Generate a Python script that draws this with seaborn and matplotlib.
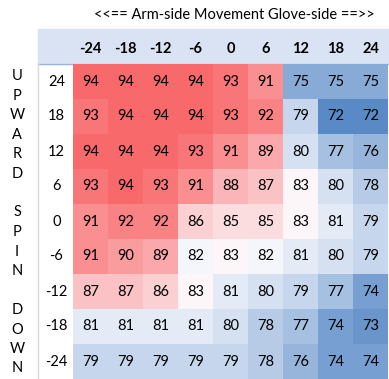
import numpy as np
import pandas as pd
import matplotlib
matplotlib.use("Agg")
import matplotlib.pyplot as plt
import seaborn as sns
from matplotlib.colors import LinearSegmentedColormap, TwoSlopeNorm
from matplotlib.patches import Rectangle
from matplotlib.lines import Line2D

# horizontal movement (columns) and vertical spin (rows)
h_move = [-24, -18, -12, -6, 0, 6, 12, 18, 24]
v_spin = [24, 18, 12, 6, 0, -6, -12, -18, -24]

row_24 = [94, 94, 94, 94, 93, 91, 75, 75, 75]
row_18 = [93, 94, 94, 94, 93, 92, 79, 72, 72]
row_12 = [94, 94, 94, 93, 91, 89, 80, 77, 76]
row_6 = [93, 94, 93, 91, 88, 87, 83, 80, 78]
row_0 = [91, 92, 92, 86, 85, 85, 83, 81, 79]
row_m6 = [91, 90, 89, 82, 83, 82, 81, 80, 79]
row_m12 = [87, 87, 86, 83, 81, 80, 79, 77, 74]
row_m18 = [81, 81, 81, 81, 80, 78, 77, 74, 73]
row_m24 = [79, 79, 79, 79, 79, 78, 76, 74, 74]

side_label = "UPWARD SPIN DOWN"
title = "<<== Arm-side Movement Glove-side ==>>"

df = pd.DataFrame([row_24, row_18, row_12, row_6, row_0,
                   row_m6, row_m12, row_m18, row_m24],
                  index=v_spin, columns=h_move)

W, H = 389, 379
plt.rcParams['font.family'] = ['Lato', 'DejaVu Sans']
fig = plt.figure(figsize=(W / 100, H / 100), dpi=100)
fig.patch.set_facecolor('white')

# header band (drawn beneath the axes)
fig.patches.append(Rectangle((38 / W, 1 - 64 / H), 1 - 38 / W, 35 / H,
                             transform=fig.transFigure, color='#dae3f3', zorder=-5))
fig.lines.append(Line2D([38 / W, 1], [1 - 64 / H, 1 - 64 / H],
                        transform=fig.transFigure, color='#9db4de', lw=1, zorder=-4))
fig.lines.append(Line2D([38 / W, 38 / W], [0, 1 - 64 / H],
                        transform=fig.transFigure, color='#d9d9d9', lw=1, zorder=-4))

cmap = LinearSegmentedColormap.from_list('xl', ['#5a8ac6', '#fcfcff', '#f8696b'])
norm = TwoSlopeNorm(vmin=72, vcenter=82.5, vmax=94)

ax = fig.add_axes([73 / W, 0, 315 / W, 315 / H])
sns.heatmap(df, ax=ax, cmap=cmap, norm=norm, annot=True, fmt='d', cbar=False,
            annot_kws={'size': 10.5, 'color': 'black'}, linewidths=0)

ax.xaxis.tick_top()
ax.tick_params(axis='x', length=0, pad=6, labelsize=10.5)
ax.tick_params(axis='y', length=0, pad=12, labelsize=10.5)
for t in ax.get_xticklabels():
    t.set_fontweight('bold')
for t in ax.get_yticklabels():
    t.set_rotation(0)
    t.set_ha('center')
ax.set_xlabel('')
ax.set_ylabel('')

fig.text(234 / W, 1 - 15 / H, title, ha='center', va='center', fontsize=10.5)

# vertical side label, one letter per line
y0 = 76
for i, ch in enumerate(side_label):
    if ch != ' ':
        fig.text(17 / W, 1 - (y0 + i * 19.5) / H, ch, ha='center', va='center',
                 fontsize=10.5)

fig.savefig('out.png', dpi=100)
